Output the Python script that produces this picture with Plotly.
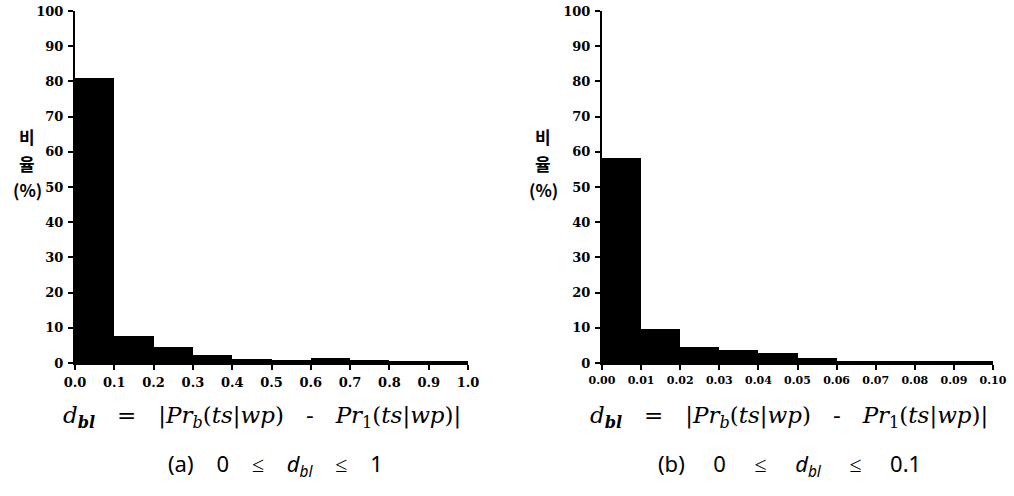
import plotly.graph_objects as go

# Data
bins_a = [0.05, 0.15, 0.25, 0.35, 0.45, 0.55, 0.65, 0.75, 0.85, 0.95]
vals_a = [81.0, 7.8, 4.6, 2.3, 1.0, 0.8, 1.4, 0.8, 0.6, 0.3]
bins_b = [0.005, 0.015, 0.025, 0.035, 0.045, 0.055, 0.065, 0.075, 0.085, 0.095]
vals_b = [58.3, 9.7, 4.5, 3.8, 2.8, 1.4, 0.7, 0.5, 0.6, 0.5]
xticks_a = [0.0, 0.1, 0.2, 0.3, 0.4, 0.5, 0.6, 0.7, 0.8, 0.9, 1.0]
xticks_b = [0.00, 0.01, 0.02, 0.03, 0.04, 0.05, 0.06, 0.07, 0.08, 0.09, 0.10]
yticks = [0, 10, 20, 30, 40, 50, 60, 70, 80, 90, 100]
ylabel_lines = ["비", "율", "(%)"]

W, H = 1014, 496

def px(X):
    return X / W

def py(Y):
    return 1 - Y / H

fig = go.Figure()
fig.add_trace(go.Bar(x=bins_a, y=vals_a, width=0.1, marker=dict(color="black", line=dict(width=0)),
                     xaxis="x", yaxis="y", showlegend=False))
fig.add_trace(go.Bar(x=bins_b, y=vals_b, width=0.01, marker=dict(color="black", line=dict(width=0)),
                     xaxis="x2", yaxis="y2", showlegend=False))

def tf(size):
    return dict(family="DejaVu Serif", size=size, color="black", weight="bold")

def xax(domain, ticks, fmt, anchor, fs):
    return dict(domain=domain, range=[ticks[0], ticks[-1]], tickvals=ticks, tickformat=fmt,
                showline=True, linecolor="black", linewidth=2, ticks="outside", ticklen=5,
                tickwidth=2, tickcolor="black", showgrid=False, zeroline=False, automargin=False,
                tickfont=tf(fs), anchor=anchor, ticklabelstandoff=1, fixedrange=True,
                ticklabeloverflow="allow")

def yax(anchor):
    return dict(domain=[py(363), py(11)], range=[0, 100], tickvals=yticks,
                showline=True, linecolor="black", linewidth=2, ticks="outside", ticklen=5,
                tickwidth=2, tickcolor="black", showgrid=False, zeroline=False, automargin=False,
                tickfont=tf(13), anchor=anchor, ticklabelstandoff=2, fixedrange=True,
                ticklabeloverflow="allow")

fig.update_layout(
    width=W, height=H, margin=dict(l=0, r=0, t=0, b=0, autoexpand=False),
    paper_bgcolor="white", plot_bgcolor="white", bargap=0,
    xaxis=xax([px(75), px(468)], xticks_a, ".1f", "y", 13),
    yaxis=yax("x"),
    xaxis2=xax([px(602), px(993)], xticks_b, ".2f", "y2", 11),
    yaxis2=yax("x2"),
)

sp = "&nbsp;"
formula = ("<i>d<sub><b>bl</b></sub></i>" + sp * 3 + "=" + sp * 3 + "|<i>Pr<sub>b</sub></i>(<i>ts</i>|<i>wp</i>)"
           + sp * 3 + "-" + sp * 3 + "<i>Pr</i><sub>1</sub>(<i>ts</i>|<i>wp</i>)|")
ann_font = dict(family="DejaVu Serif", size=23, color="black")
cap_font = dict(family="Noto Sans", size=22, color="black")
ylab_font = dict(family="Noto Sans CJK KR", size=17, color="black", weight="bold")

def cap(letter, hi, n):
    s = sp * n
    return "(" + letter + ")" + s + "0" + s + "≤" + s + "<i>d<sub>bl</sub></i>" + s + "≤" + s + hi

for rx, c, ccx in [(463, cap("a", "1", 4), 275), (990, cap("b", "0.1", 5), 789)]:
    fig.add_annotation(x=px(rx), y=py(417), xref="paper", yref="paper", text=formula,
                       showarrow=False, font=ann_font, xanchor="right", yanchor="middle")
    fig.add_annotation(x=px(ccx), y=py(465), xref="paper", yref="paper", text=c,
                       showarrow=False, font=cap_font, xanchor="center", yanchor="middle")

for cx in [27, 543]:
    for i, t in enumerate(ylabel_lines):
        fig.add_annotation(x=px(cx), y=py(137 + 26 * i), xref="paper", yref="paper",
                           text=t, showarrow=False, font=ylab_font,
                           xanchor="center", yanchor="middle")

# remove the default 8px page margin so the figure sits at the window's corner
fig.write_html("out.html", config={"displayModeBar": False},
               post_script="document.body.style.margin='0';")
